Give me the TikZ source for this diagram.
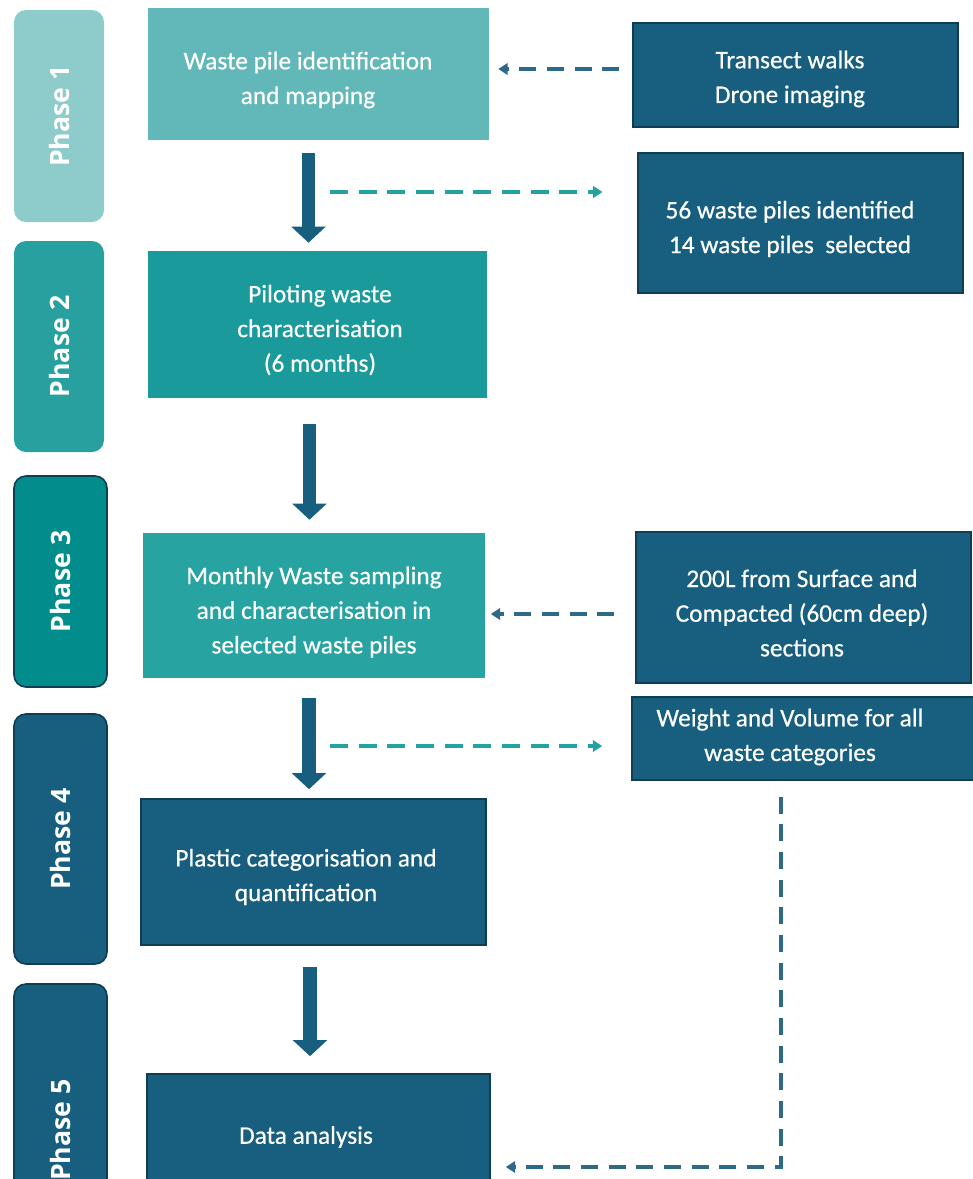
\documentclass[tikz,border=0pt]{standalone}
\usepackage{fontspec}
\setmainfont{Carlito}
\newfontfamily\boxfont{Carlito}[FakeBold=0.5]
\newfontfamily\phasefont{Open Sans}
\usetikzlibrary{arrows.meta,calc,fit}

\definecolor{tabA}{HTML}{8ECBCB}
\definecolor{boxA}{HTML}{62B7B9}
\definecolor{tabB}{HTML}{27A09F}
\definecolor{boxB}{HTML}{1A9A9A}
\definecolor{tabC}{HTML}{028C8C}
\definecolor{boxC}{HTML}{27A3A2}
\definecolor{navy}{HTML}{175E7F}
\definecolor{navyedge}{HTML}{0F3E54}
\definecolor{dashteal}{HTML}{22A3A1}
\definecolor{dashnavy}{HTML}{2C6A88}

\begin{document}
\begin{tikzpicture}[x=0.75pt,y=-0.75pt,
  phasetab/.style={rectangle, rounded corners=9pt, inner sep=0pt},
  flatbox/.style={rectangle, inner sep=0pt},
  edged/.style={draw=navyedge, line width=1.2pt},
  boxtext/.style={align=center, text=white, inner sep=0pt,
     font=\boxfont\fontsize{19}{26}\selectfont},
  phasetext/.style={text=white, inner sep=0pt, rotate=90,
     font=\phasefont\bfseries\fontsize{20}{24}\selectfont},
  bigarrow/.style={draw=navy, line width=10pt,
     -{Triangle[width=25pt,length=12pt]}},
  dashtl/.style={draw=dashteal, line width=3pt, dash pattern=on 13.5pt off 8pt,
     -{Triangle[length=7pt,width=8.5pt]}},
  dashnv/.style={draw=dashnavy, line width=3pt, dash pattern=on 12.75pt off 8pt,
     -{Triangle[length=7pt,width=8.5pt]}}
]
\useasboundingbox (0,0) rectangle (973,1179);
\clip (0,0) rectangle (973,1179);

% phase tabs
\node[phasetab, fill=tabA, fit={(14,10) (104,222)}] (p1) {};
\node[phasetab, fill=tabB, fit={(14,241) (104,452)}] (p2) {};
\node[phasetab, fill=tabC, edged, fit={(14,476) (107,687)}] (p3) {};
\node[phasetab, fill=navy, edged, fit={(14,714) (107,964)}] (p4) {};
\node[phasetab, fill=navy, edged, fit={(14,984) (107,1276)}] (p5) {};
\node[phasetext] (p1t) at (p1.center) {Phase 1};
\node[phasetext] (p2t) at (p2.center) {Phase 2};
\node[phasetext] (p3t) at (p3.center) {Phase 3};
\node[phasetext] (p4t) at (p4.center) {Phase 4};
\node[phasetext] (p5t) at (p5.center) {Phase 5};

% main boxes
\node[flatbox, fill=boxA, fit={(148,8) (489,140)}] (b1) {};
\node[flatbox, fill=boxB, fit={(148,251) (487,398)}] (b2) {};
\node[flatbox, fill=boxC, fit={(143,533) (485,678)}] (b3) {};
\node[flatbox, fill=navy, edged, fit={(141,799) (486,945)}] (b4) {};
\node[flatbox, fill=navy, edged, fit={(147,1074) (490,1200)}] (b5) {};
\node[boxtext] (b1t) at (308,80) {Waste pile identification\\and mapping};
\node[boxtext] (b2t) at (320,330) {Piloting waste\\characterisation\\(6 months)};
\node[boxtext] (b3t) at (314,612) {Monthly Waste sampling\\and characterisation in\\selected waste piles};
\node[boxtext] (b4t) at (306,877) {Plastic categorisation and\\quantification};
\node[boxtext] (b5t) at (306,1137) {Data analysis};

% right boxes
\node[flatbox, fill=navy, edged, fit={(633,23) (958,127)}] (r1) {};
\node[flatbox, fill=navy, edged, fit={(638,153) (963,293)}] (r2) {};
\node[flatbox, fill=navy, edged, fit={(636,532) (971,683)}] (r3) {};
\node[flatbox, fill=navy, edged, fit={(632,697) (976,780)}] (r4) {};
\node[boxtext] (r1t) at (790,79) {Transect walks\\Drone imaging};
\node[boxtext] (r2t) at (790,229) {56 waste piles identified\\14 waste piles\ \ selected};
\node[boxtext] (r3t) at (802,613) {200L from Surface and\\Compacted (60cm deep)\\sections};
\node[boxtext] (r4t) at (790,737) {Weight and Volume for all\\waste categories};

% block arrows
\draw[bigarrow, shorten >=6pt] ($(b1.south)+(-10,13)$) coordinate (a1) -- (a1 |- b2.north);
\draw[bigarrow, shorten >=9.75pt] ($(b2.south)+(-8,26)$) coordinate (a2) -- (a2 |- b3.north);
\draw[bigarrow, shorten >=6.75pt] ($(b3.south)+(-5,20)$) coordinate (a3) -- (a3 |- b4.north);
\draw[bigarrow, shorten >=12.75pt] ($(b4.south)+(-3.5,21)$) coordinate (a4) -- (a4 |- b5.north);

% dashed connectors
\draw[dashnv] ($(r1.west)+(-13,-6)$) -- ($(b1.east)+(9,-5)$);
\coordinate (c2) at (330,192);
\draw[dashtl, shorten >=26pt] (c2) -- (c2 -| r2.west);
\draw[dashnv] ($(r3.west)+(-21,6.5)$) -- ($(b3.east)+(5.5,8.5)$);
\coordinate (c4) at (330,746);
\draw[dashtl, shorten >=21.75pt] (c4) -- (c4 -| r4.west);
\draw[dashnv] ($(r4.south)+(-23,16)$) |- ($(b5.east)+(15,30)$);
\end{tikzpicture}
\end{document}
